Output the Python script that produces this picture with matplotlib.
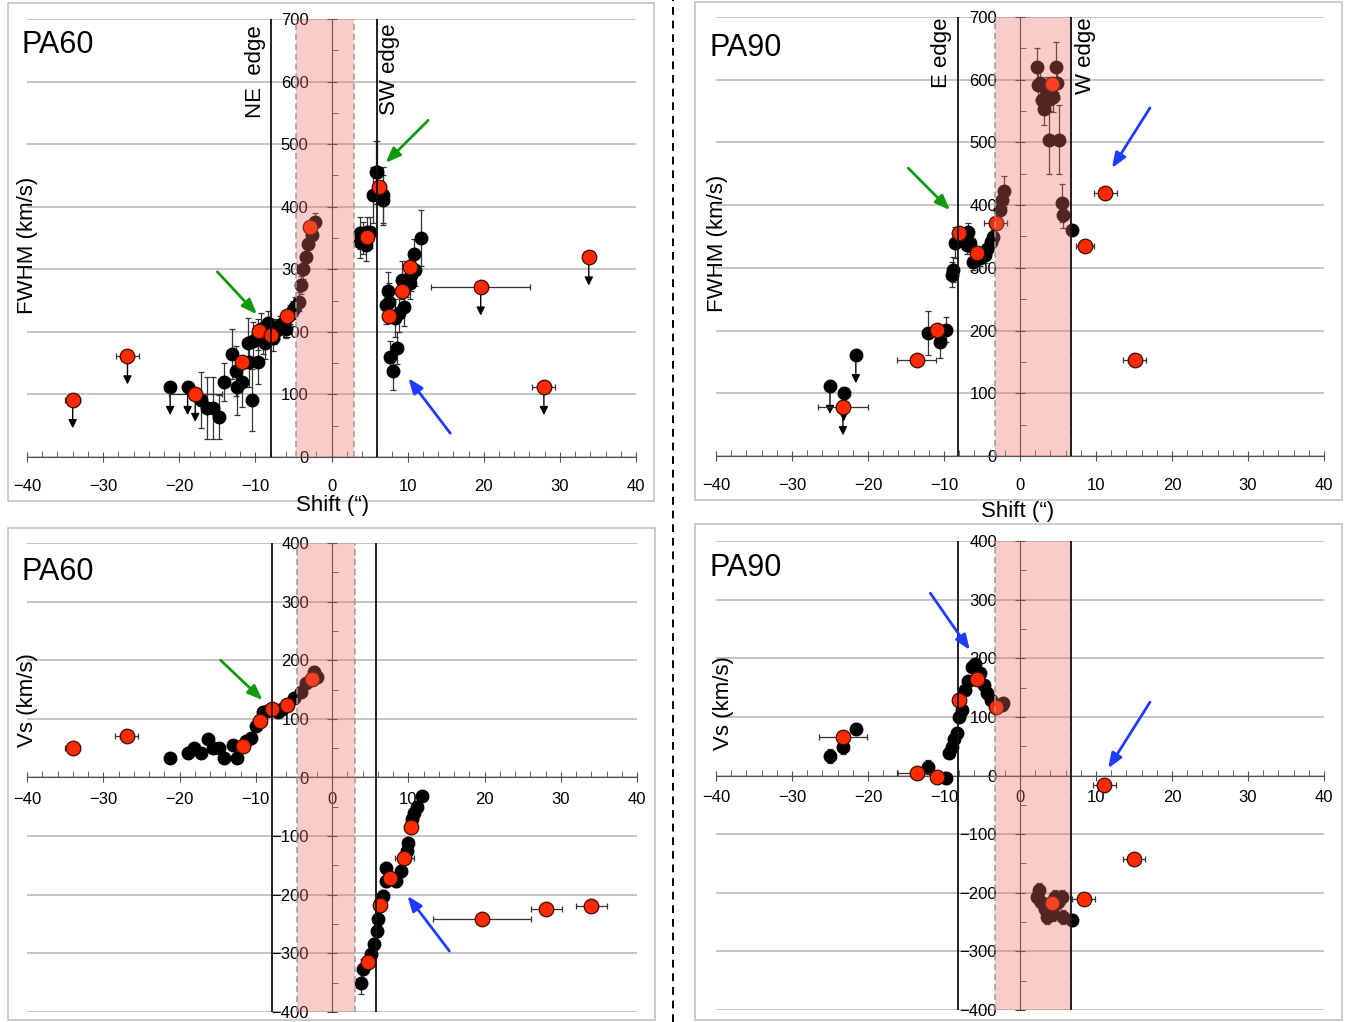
import matplotlib
matplotlib.use('Agg')
import matplotlib.pyplot as plt
from matplotlib.patches import Rectangle
from matplotlib.lines import Line2D

plt.rcParams['font.family'] = ['Liberation Sans', 'DejaVu Sans']

W, H = 1346, 1022

# ---------------- data ----------------
# PA60 FWHM
tl_bx = [-21.2, -18.9, -17.1, -16.3, -15.6, -14.8, -14.1, -13.1, -12.6, -12.4, -11.8, -11.0, -10.5,
         -10.8, -10.3, -9.7, -9.7, -9.2, -9.0, -8.7, -8.4, -7.7, -7.5, -7.2, -6.7, -6.3, -6.0, -5.5,
         -5.1, -4.8, -4.3, -4.0, -3.7, -3.4, -3.1, -2.6, -2.2,
         3.8, 4.7, 3.8, 4.5, 5.1, 4.2, 5.8, 6.0, 5.5, 6.7, 6.7,
         7.4, 7.5, 7.1, 7.7, 8.6, 8.1, 8.9, 9.5, 9.3, 10.3, 11.0, 10.8, 11.7, 10.4, 9.8, 8.4]
tl_by = [112, 112, 91, 78, 78, 64, 120, 165, 137, 112, 120, 182, 91,
         152, 185, 152, 196, 205, 190, 182, 214, 190, 200, 203, 211, 215, 205, 228,
         235, 240, 248, 275, 300, 320, 340, 355, 375,
         358, 359, 343, 339, 359, 350, 455, 455, 419, 419, 411,
         265, 248, 243, 160, 174, 137, 230, 240, 283, 278, 299, 324, 350, 291, 280, 222]
tl_be = [0, 0, 45, 50, 50, 35, 30, 40, 40, 45, 40, 40, 50,
         40, 30, 35, 25, 25, 25, 25, 20, 20, 20, 15, 15, 15, 15, 15,
         15, 15, 15, 15, 15, 15, 15, 15, 15,
         25, 25, 25, 25, 25, 25, 50, 50, 45, 45, 40,
         30, 30, 30, 25, 25, 30, 30, 30, 30, 25, 25, 25, 45, 25, 25, 30]
tl_rx = [-34.0, -26.8, -17.9, -11.8, -9.5, -7.9, -5.9, -2.8, 4.6, 6.3, 7.6, 9.3, 10.3, 19.6, 27.9, 33.8]
tl_ry = [91, 161, 101, 152, 201, 195, 225, 367, 351, 431, 225, 265, 304, 271, 112, 319]
tl_rxe = [1.0, 1.5, 3.5, 0, 0, 0, 0, 0, 0, 0.8, 0.8, 0.8, 0, 6.5, 1.5, 0]
tl_lim_x = [-34.0, -26.8, -21.2, -18.9, -17.9, 19.6, 27.9, 33.8]
tl_lim_y = [91, 161, 112, 112, 101, 271, 112, 319]

# PA60 Vs
bl_bx = [-21.2, -18.9, -18.1, -17.2, -16.3, -15.6, -14.8, -14.1, -13.0, -12.5, -11.3, -10.6, -10.0,
         -9.1, -8.5, -7.1, -6.5, -5.0, -4.1, -3.4, -2.4, -2.0,
         3.8, 4.1, 5.1, 5.5, 5.9, 6.0, 6.7, 7.1, 7.1, 8.4, 9.1, 9.9, 10.0, 10.5, 10.8, 11.2, 11.8]
bl_by = [34, 41, 51, 41, 65, 50, 51, 34, 56, 34, 63, 68, 87,
         111, 114, 111, 116, 135, 145, 161, 180, 172,
         -350, -327, -301, -284, -262, -241, -202, -176, -154, -176, -159, -125, -111, -70, -60, -51, -31]
bl_be = [8, 8, 8, 8, 8, 8, 8, 8, 8, 8, 8, 8, 8,
         8, 8, 8, 8, 8, 8, 8, 10, 10,
         20, 18, 12, 10, 10, 10, 10, 10, 10, 10, 10, 8, 8, 8, 8, 8, 8]
bl_rx = [-34.0, -26.9, -11.7, -9.5, -7.9, -5.9, -2.6, 4.7, 6.3, 7.6, 9.5, 10.4, 19.7, 28.1, 34.0]
bl_ry = [50, 70, 53, 97, 116, 123, 168, -315, -217, -171, -137, -85, -241, -224, -219]
bl_rxe = [1.0, 1.5, 0, 0, 0, 0, 0, 0, 0, 0, 1.2, 0, 6.4, 2.0, 2.0]

# PA90 FWHM
tr_bx = [-25.0, -23.2, -21.6, -12.1, -10.5, -9.7, -8.9, -8.8, -8.6, -6.8, -6.6, -7.0, -6.2, -5.3,
         -4.6, -4.3, -3.8, -3.6, -2.6, -2.4, -2.1,
         2.2, 2.4, 2.6, 2.9, 3.2, 3.5, 3.8, 4.7, 4.9, 4.3, 3.9, 5.1, 5.5, 5.7, 6.8]
tr_by = [112, 100, 161, 196, 182, 201, 289, 297, 340, 357, 340, 337, 309, 315,
         320, 330, 341, 349, 392, 408, 422,
         620, 592, 595, 568, 553, 580, 504, 620, 595, 573, 570, 504, 403, 384, 360]
tr_be = [0, 0, 0, 35, 25, 20, 20, 20, 25, 15, 15, 15, 12, 12,
         12, 12, 12, 12, 15, 15, 25,
         30, 25, 25, 20, 25, 25, 55, 40, 25, 25, 20, 55, 30, 20, 0]
tr_rx = [-23.3, -13.6, -10.9, -8.0, -5.7, -3.2, 4.2, 8.6, 11.2, 15.1]
tr_ry = [78, 153, 201, 356, 324, 372, 593, 335, 419, 153]
tr_rxe = [3.3, 2.6, 0, 0, 0, 1.5, 0, 1.2, 1.5, 1.5]
tr_lim_x = [-25.0, -23.2, -23.3, -21.6]
tr_lim_y = [112, 100, 78, 161]

# PA90 Vs
br_bx = [-25.0, -23.3, -21.6, -12.1, -9.7, -9.3, -9.0, -8.7, -8.3, -8.0, -7.6, -7.2, -6.8, -6.3,
         -5.9, -5.3, -4.8, -4.3, -3.8, -2.4, -2.2,
         2.5, 2.2, 3.3, 3.5, 4.6, 5.5, 4.3, 5.7, 6.8, 2.8, 5.0]
br_by = [34, 48, 80, 15, -5, 39, 48, 63, 73, 99, 111, 145, 162, 185,
         191, 174, 154, 140, 128, 120, 123,
         -195, -208, -227, -242, -208, -208, -236, -242, -246, -215, -215]
br_be = [12, 12, 10, 12, 10, 8, 8, 8, 8, 8, 8, 8, 8, 8,
         10, 8, 8, 8, 8, 10, 10,
         12, 12, 12, 12, 12, 12, 12, 12, 10, 12, 12]
br_rx = [-23.3, -13.6, -10.9, -8.0, -5.7, -3.2, 4.2, 8.4, 11.1, 15.0]
br_ry = [65, 5, -2, 128, 164, 116, -217, -210, -17, -143]
br_rxe = [3.2, 2.6, 0, 0, 0, 0, 0, 1.5, 1.5, 1.5]

# ---------------- figure ----------------
fig = plt.figure(figsize=(W / 100, H / 100), dpi=100)


def px_rect(l, t, r, b):
    return [l / W, 1 - b / H, (r - l) / W, (b - t) / H]


def frame(l, t, r, b):
    fig.patches.append(Rectangle((l / W, 1 - b / H), (r - l) / W, (b - t) / H,
                                 transform=fig.transFigure, fill=False,
                                 edgecolor='#c4c4c4', lw=1.2))


def setup(ax, ylo, yhi, band, edges, xpad):
    ax.set_xlim(-40, 40)
    ax.set_ylim(ylo, yhi)
    for s in ['top', 'right']:
        ax.spines[s].set_visible(False)
    ax.spines['left'].set_position(('data', 0))
    ax.spines['bottom'].set_position(('data', 0))
    ax.spines['left'].set_color('#404040')
    ax.spines['bottom'].set_color('#505050')
    ax.set_xticks(range(-40, 41, 10))
    ax.set_xticks(range(-40, 41, 2), minor=True)
    ax.set_yticks(range(ylo, yhi + 1, 100))
    ax.set_yticks(range(ylo, yhi + 1, 50), minor=True)
    ax.tick_params(axis='x', which='major', direction='inout', length=7, pad=xpad,
                   labelsize=12, color='#505050')
    ax.tick_params(axis='x', which='minor', direction='in', length=4, color='#505050')
    ax.tick_params(axis='y', which='major', direction='inout', length=7, pad=13,
                   labelsize=12, color='#404040')
    ax.tick_params(axis='y', which='minor', direction='in', length=4, color='#404040')
    for yv in range(ylo, yhi + 1, 100):
        ax.axhline(yv, color='#b4b4b4', lw=1.1, zorder=0)
    ax.axvspan(band[0], band[1], color='#eb6e64', alpha=0.35, lw=0, zorder=4)
    for bx in band:
        ax.axvline(bx, color='#9a9a9a', lw=1.1, ls=(0, (4, 2.5)), zorder=5)
    for ex in edges:
        ax.axvline(ex, color='#111111', lw=1.3, zorder=5)
    ax.patch.set_alpha(0)


def points(ax, bx, by, be, rx, ry, rxe):
    ax.errorbar(bx, by, yerr=be, fmt='o', color='black', ms=9, mec='black',
                ecolor='#333333', elinewidth=0.9, capsize=2.5, capthick=0.9, zorder=3)
    ax.errorbar(rx, ry, xerr=rxe, yerr=[8] * len(rx), fmt='o', color='#ff2a00', ms=10.5,
                mec='#3a0a00', mew=0.9, ecolor='#333333', elinewidth=0.9, capsize=2.5,
                capthick=0.9, zorder=3.5)


def limits(ax, lx, ly, length):
    for x, y in zip(lx, ly):
        ax.annotate('', xy=(x, y - length), xytext=(x, y),
                    arrowprops=dict(arrowstyle='-|>,head_length=0.5,head_width=0.25',
                                    color='black', lw=1.0, shrinkA=0, shrinkB=0), zorder=3)


def arrow(ax, tail, head, color):
    ax.annotate('', xy=head, xytext=tail,
                arrowprops=dict(arrowstyle='-|>,head_length=0.9,head_width=0.35',
                                color=color, lw=2.0, shrinkA=0, shrinkB=0), zorder=6)


green = '#109a10'
blue = '#1e3cff'

frame(8, 3, 654, 501)
frame(695, 2, 1342, 500)
frame(8, 528, 655, 1020)
frame(695, 524, 1342, 1020)
fig.add_artist(Line2D([673 / W, 673 / W], [0, 1], transform=fig.transFigure,
                      color='black', lw=1.4, ls=(0, (4, 3))))

# top-left
ax1 = fig.add_axes(px_rect(27, 19, 636, 457))
setup(ax1, 0, 700, (-4.6, 3.0), (-7.9, 6.0), 12)
points(ax1, tl_bx, tl_by, tl_be, tl_rx, tl_ry, tl_rxe)
limits(ax1, tl_lim_x, tl_lim_y, 45)
ax1.text(-10.0, 690, 'NE  edge', rotation=90, ha='center', va='top', fontsize=16)
ax1.text(7.6, 693, 'SW edge', rotation=90, ha='center', va='top', fontsize=16)
arrow(ax1, (-15.0, 296), (-9.8, 228), green)
arrow(ax1, (12.7, 538), (7.1, 470), green)
arrow(ax1, (15.6, 38), (10.1, 126), blue)

# top-right
ax2 = fig.add_axes(px_rect(716, 17, 1324, 456))
setup(ax2, 0, 700, (-3.3, 6.7), (-8.2, 6.7), 12)
points(ax2, tr_bx, tr_by, tr_be, tr_rx, tr_ry, tr_rxe)
limits(ax2, tr_lim_x, tr_lim_y, 45)
ax2.text(-10.3, 700, 'E edge', rotation=90, ha='center', va='top', fontsize=16)
ax2.text(8.6, 700, 'W edge', rotation=90, ha='center', va='top', fontsize=16)
arrow(ax2, (-14.7, 459), (-9.2, 392), green)
arrow(ax2, (17.1, 555), (12.1, 459), blue)

# bottom-left
ax3 = fig.add_axes(px_rect(27, 543, 637, 1012))
setup(ax3, -400, 400, (-4.6, 3.0), (-7.9, 5.8), 7)
points(ax3, bl_bx, bl_by, bl_be, bl_rx, bl_ry, bl_rxe)
arrow(ax3, (-14.6, 200), (-9.1, 132), green)
arrow(ax3, (15.4, -296), (9.9, -202), blue)

# bottom-right
ax4 = fig.add_axes(px_rect(716, 541, 1324, 1010))
setup(ax4, -400, 400, (-3.3, 6.7), (-8.2, 6.7), 7)
points(ax4, br_bx, br_by, br_be, br_rx, br_ry, br_rxe)
arrow(ax4, (-11.8, 311), (-6.6, 214), blue)
arrow(ax4, (17.1, 125), (11.6, 12), blue)


def ftext(x, y, s, **kw):
    fig.text(x / W, 1 - y / H, s, **kw)


ftext(22, 45, 'PA60', fontsize=22, va='center', ha='left')
ftext(709, 48, 'PA90', fontsize=22, va='center', ha='left')
ftext(22, 572, 'PA60', fontsize=22, va='center', ha='left')
ftext(709, 568, 'PA90', fontsize=22, va='center', ha='left')
ftext(28, 245, 'FWHM (km/s)', fontsize=16, rotation=90, va='center', ha='center')
ftext(717, 243, 'FWHM (km/s)', fontsize=16, rotation=90, va='center', ha='center')
ftext(28, 700, 'Vs (km/s)', fontsize=16, rotation=90, va='center', ha='center')
ftext(724, 703, 'Vs (km/s)', fontsize=16, rotation=90, va='center', ha='center')
ftext(333, 505, 'Shift (\u201c)', fontsize=16, va='center', ha='center')
ftext(1018, 511, 'Shift (\u201c)', fontsize=16, va='center', ha='center')

fig.savefig('out.png', dpi=100)
